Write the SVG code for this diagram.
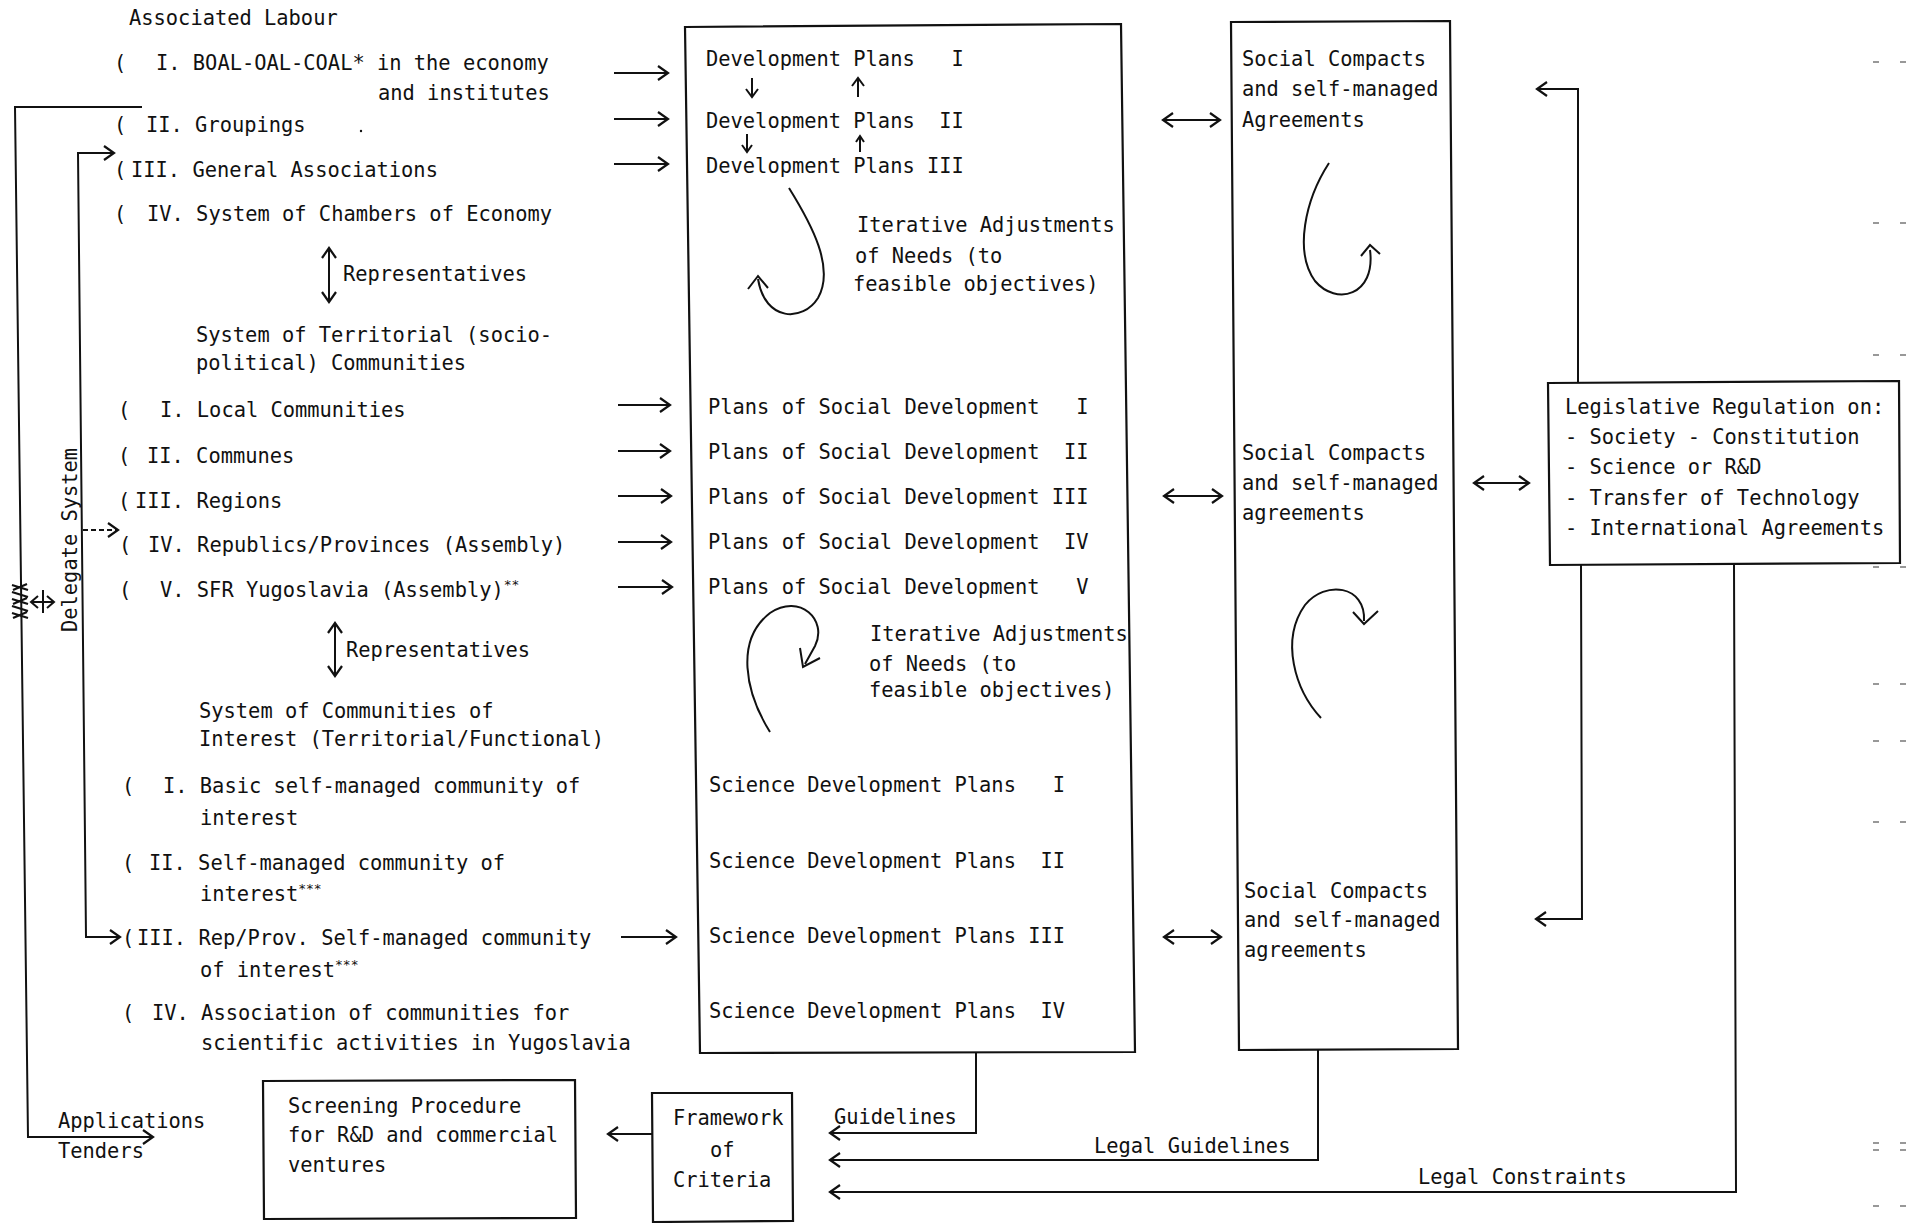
<svg xmlns="http://www.w3.org/2000/svg" width="1908" height="1223" viewBox="0 0 1908 1223">
<style>
.t{font-family:"DejaVu Sans Mono","Liberation Mono",monospace;font-size:20.4px;fill:#111;white-space:pre}
.sup{font-size:13px}
.ln{fill:none;stroke:#111;stroke-width:2}
.box{fill:none;stroke:#111;stroke-width:2.2}
.a{marker-end:url(#ah)}
.aa{marker-start:url(#ah);marker-end:url(#ah)}
.mk{stroke:#333;stroke-width:1.2}
</style>
<defs>
<marker id="ah" viewBox="-12 -8 14 16" refX="0" refY="0" markerWidth="14" markerHeight="16" markerUnits="userSpaceOnUse" orient="auto-start-reverse">
<path d="M-10,-7 L0,0 L-10,7" fill="none" stroke="#111" stroke-width="2.2"/>
</marker>
</defs>
<rect width="1908" height="1223" fill="#fff"/>
<g id="associated-labour">
<text class="t" x="129" y="25">Associated Labour</text>
<text class="t" x="114" y="70">(</text><text class="t" x="156" y="70">I. BOAL-OAL-COAL* in the economy</text>
<text class="t" x="378" y="100">and institutes</text>
<text class="t" x="114" y="132">(</text><text class="t" x="146" y="132">II. Groupings</text>
<circle cx="361" cy="131" r="1.2" fill="#111"/>
<text class="t" x="114" y="177">(</text><text class="t" x="131" y="177">III. General Associations</text>
<text class="t" x="114" y="221">(</text><text class="t" x="147" y="221">IV. System of Chambers of Economy</text>
<text class="t" x="343" y="281">Representatives</text>
</g>
<g id="territorial">
<text class="t" x="196" y="342">System of Territorial (socio-</text>
<text class="t" x="196" y="370">political) Communities</text>
<text class="t" x="118" y="417">(</text><text class="t" x="160" y="417">I. Local Communities</text>
<text class="t" x="118" y="463">(</text><text class="t" x="147" y="463">II. Communes</text>
<text class="t" x="118" y="508">(</text><text class="t" x="135" y="508">III. Regions</text>
<text class="t" x="119" y="552">(</text><text class="t" x="148" y="552">IV. Republics/Provinces (Assembly)</text>
<text class="t" x="119" y="597">(</text><text class="t" x="160" y="597">V. SFR Yugoslavia (Assembly)<tspan class="sup" dy="-8">**</tspan></text>
<text class="t" x="346" y="657">Representatives</text>
</g>
<g id="interest">
<text class="t" x="199" y="718">System of Communities of</text>
<text class="t" x="199" y="746">Interest (Territorial/Functional)</text>
<text class="t" x="122" y="793">(</text><text class="t" x="163" y="793">I. Basic self-managed community of</text>
<text class="t" x="200" y="825">interest</text>
<text class="t" x="122" y="870">(</text><text class="t" x="149" y="870">II. Self-managed community of</text>
<text class="t" x="200" y="901">interest<tspan class="sup" dy="-8">***</tspan></text>
<text class="t" x="122" y="945">(</text><text class="t" x="137" y="945">III. Rep/Prov. Self-managed community</text>
<text class="t" x="200" y="977">of interest<tspan class="sup" dy="-8">***</tspan></text>
<text class="t" x="122" y="1020">(</text><text class="t" x="152" y="1020">IV. Association of communities for</text>
<text class="t" x="201" y="1050">scientific activities in Yugoslavia</text>
</g>
<g id="delegate-system">
<text class="t" transform="translate(77,632) rotate(-90)">Delegate System</text>
<path d="M12 585 L28 590 M12 592 L28 597 M12 599 L28 604 M12 606 L28 611 M12 613 L28 618 M13 590 L27 584 M13 604 L27 598 M13 618 L27 612" fill="none" stroke="#111" stroke-width="2.2"/>
<path class="ln" d="M31 602 L54 602 M43 590 L43 613 M38 596 L31 602 L38 608 M47 596 L54 602 L47 608" stroke-width="2.4"/>
</g>
<g id="plans-box">
<polygon class="box" points="685,27 1121,24 1135,1052 700,1053"/>
<text class="t" x="706" y="66">Development Plans   I</text>
<text class="t" x="706" y="128">Development Plans  II</text>
<text class="t" x="706" y="173">Development Plans III</text>
<path class="ln" d="M752 78 L752 96 M746 89 L752 97 L758 89 M858 97 L858 79 M852 86 L858 78 L864 86 M747 134 L747 151 M742 145 L747 152 L752 145 M860 152 L860 137 M856 142 L860 136 L864 142" stroke-width="2.4"/>
<path class="ln" d="M789 188 C812 225 835 268 818 298 C803 322 765 322 758 279 M748 289 L758 276 L768 288"/>
<text class="t" x="857" y="232">Iterative Adjustments</text>
<text class="t" x="855" y="263">of Needs (to</text>
<text class="t" x="853" y="291">feasible objectives)</text>
<text class="t" x="708" y="414">Plans of Social Development   I</text>
<text class="t" x="708" y="459">Plans of Social Development  II</text>
<text class="t" x="708" y="504">Plans of Social Development III</text>
<text class="t" x="708" y="549">Plans of Social Development  IV</text>
<text class="t" x="708" y="594">Plans of Social Development   V</text>
<path class="ln" d="M770 732 C745 692 735 640 770 613 C800 593 828 620 815 646 L805 664 M800 648 L803 667 L820 658"/>
<text class="t" x="870" y="641">Iterative Adjustments</text>
<text class="t" x="869" y="671">of Needs (to</text>
<text class="t" x="869" y="697">feasible objectives)</text>
<text class="t" x="709" y="792">Science Development Plans   I</text>
<text class="t" x="709" y="868">Science Development Plans  II</text>
<text class="t" x="709" y="943">Science Development Plans III</text>
<text class="t" x="709" y="1018">Science Development Plans  IV</text>
</g>
<g id="compacts-box">
<polygon class="box" points="1231,22 1450,21 1458,1049 1239,1050"/>
<text class="t" x="1242" y="66">Social Compacts</text>
<text class="t" x="1242" y="96">and self-managed</text>
<text class="t" x="1242" y="127">Agreements</text>
<path class="ln" d="M1329 163 C1305 200 1294 252 1315 281 C1336 306 1376 296 1370 250 M1361 256 L1370 245 L1380 254"/>
<text class="t" x="1242" y="460">Social Compacts</text>
<text class="t" x="1242" y="490">and self-managed</text>
<text class="t" x="1242" y="520">agreements</text>
<path class="ln" d="M1321 718 C1295 690 1280 640 1305 605 C1325 580 1366 585 1364 621 M1353 612 L1364 624 L1378 611" stroke-width="2.5"/>
<text class="t" x="1244" y="898">Social Compacts</text>
<text class="t" x="1244" y="927">and self-managed</text>
<text class="t" x="1244" y="957">agreements</text>
</g>
<g id="legislative-box">
<polygon class="box" points="1548,383 1899,381 1900,563 1550,565"/>
<text class="t" x="1565" y="414">Legislative Regulation on:</text>
<text class="t" x="1565" y="444">- Society - Constitution</text>
<text class="t" x="1565" y="474">- Science or R&amp;D</text>
<text class="t" x="1565" y="505">- Transfer of Technology</text>
<text class="t" x="1565" y="535">- International Agreements</text>
</g>
<g id="framework-box">
<polygon class="box" points="652,1093 792,1093 793,1221 653,1222"/>
<text class="t" x="673" y="1125">Framework</text>
<text class="t" x="710" y="1157">of</text>
<text class="t" x="673" y="1187">Criteria</text>
</g>
<g id="screening-box">
<polygon class="box" points="263,1081 575,1080 576,1218 264,1219"/>
<text class="t" x="288" y="1113">Screening Procedure</text>
<text class="t" x="288" y="1142">for R&amp;D and commercial</text>
<text class="t" x="288" y="1172">ventures</text>
</g>
<g id="applications">
<text class="t" x="58" y="1128">Applications</text>
<text class="t" x="58" y="1158">Tenders</text>
</g>
<g id="connectors">
<path class="ln a" d="M142 107 L15 107 L28 1137 L153 1137"/>
<path class="ln aa" d="M114 153 L78 153 L86 937 L120 937"/>
<path class="ln a" d="M83 530 L118 530" stroke-dasharray="5 3"/>
<path class="ln aa" d="M329 248 L329 302"/>
<path class="ln aa" d="M335 623 L335 676"/>
<path class="ln a" d="M614 73 L668 73"/>
<path class="ln a" d="M614 119 L668 119"/>
<path class="ln a" d="M614 164 L668 164"/>
<path class="ln a" d="M618 405 L670 405"/>
<path class="ln a" d="M618 451 L670 451"/>
<path class="ln a" d="M618 496 L671 496"/>
<path class="ln a" d="M618 542 L671 542"/>
<path class="ln a" d="M618 587 L672 587"/>
<path class="ln a" d="M621 937 L676 937"/>
<path class="ln aa" d="M1163 120 L1220 120"/>
<path class="ln aa" d="M1164 496 L1222 496"/>
<path class="ln aa" d="M1164 937 L1221 937"/>
<path class="ln aa" d="M1474 483 L1529 483"/>
<path class="ln a" d="M1578 383 L1578 89 L1537 89"/>
<path class="ln a" d="M1581 565 L1582 919 L1536 919"/>
<path class="ln a" d="M976 1053 L976 1133 L830 1133"/>
<path class="ln a" d="M1318 1050 L1318 1160 L830 1160"/>
<path class="ln a" d="M1734 565 L1736 1192 L830 1192"/>
<path class="ln a" d="M652 1134 L608 1134"/>
<text class="t" x="834" y="1124">Guidelines</text>
<text class="t" x="1094" y="1153">Legal Guidelines</text>
<text class="t" x="1418" y="1184">Legal Constraints</text>
</g>
<g id="scan-marks" class="mk">
<path d="M1873 62 H1879 M1900 62 H1906 M1873 223 H1879 M1900 223 H1906 M1873 355 H1879 M1900 355 H1906 M1873 567 H1879 M1900 567 H1906 M1873 684 H1879 M1900 684 H1906 M1873 741 H1879 M1900 741 H1906 M1873 822 H1879 M1900 822 H1906 M1873 1143 H1879 M1900 1143 H1906 M1873 1150 H1879 M1900 1150 H1906 M1873 1206 H1879 M1900 1206 H1906"/>
</g>
</svg>
